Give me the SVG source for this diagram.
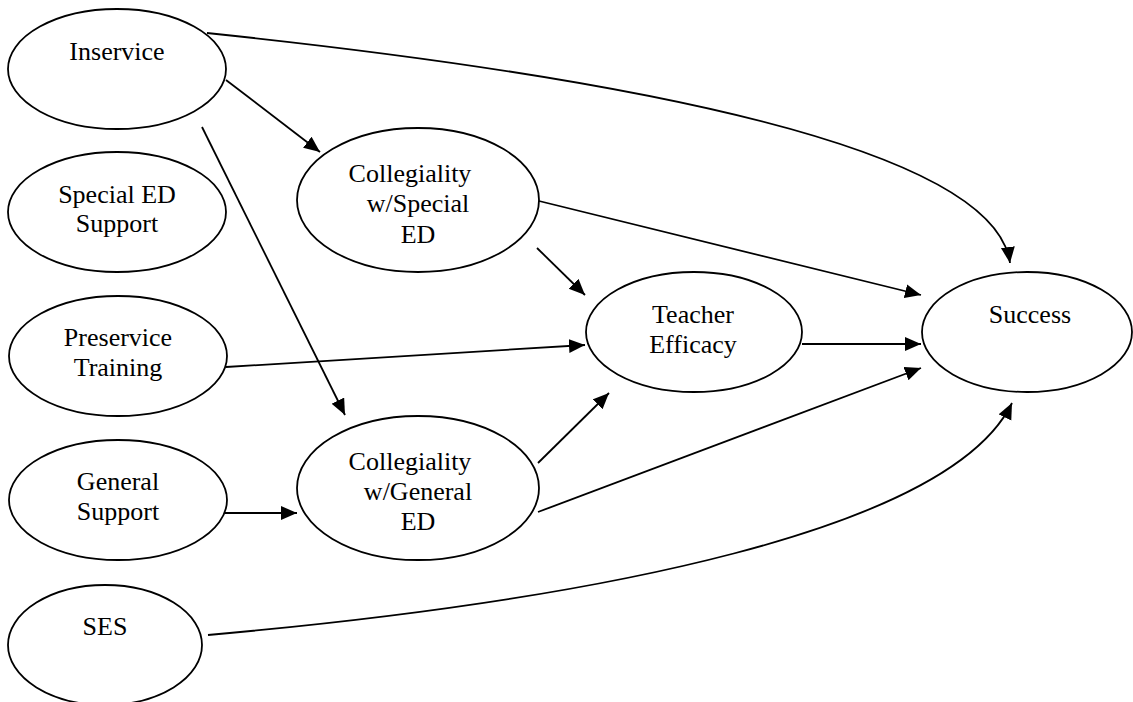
<svg xmlns="http://www.w3.org/2000/svg" width="1133" height="702" viewBox="0 0 1133 702">
<style>
.n{fill:#fff;stroke:#000;stroke-width:1.8}
.t{font-family:"Liberation Serif","Times New Roman",serif;font-size:26px;fill:#000;text-anchor:middle}
.c{fill:none;stroke:#000;stroke-width:1.8;marker-end:url(#ah)}
</style>
<defs>
<marker id="ah" markerUnits="userSpaceOnUse" markerWidth="17" markerHeight="15" refX="16" refY="7" orient="auto">
<path d="M0,0 L16,7 L0,14 z" fill="#000"/>
</marker>
</defs>
<rect width="1133" height="702" fill="#fff"/>
<g id="connectors">
<path class="c" d="M207,33 Q990,115 1010,263"/>
<path class="c" d="M226,80 L320,152"/>
<path class="c" d="M202,127 L345,415"/>
<path class="c" d="M539,201 L921,295"/>
<path class="c" d="M537,248 L585,295"/>
<path class="c" d="M226,367 L585,345"/>
<path class="c" d="M802,344 L921,344"/>
<path class="c" d="M538,463 L609,393"/>
<path class="c" d="M538,512 L921,368"/>
<path class="c" d="M225,513 L297,513"/>
<path class="c" d="M208,635 C600,600 950,530 1012,403"/>
</g>
<g id="inservice">
<ellipse class="n" cx="117" cy="69" rx="109" ry="60"/>
<text class="t" x="117" y="60">Inservice</text>
</g>
<g id="special-ed-support">
<ellipse class="n" cx="117" cy="212" rx="109" ry="60"/>
<text class="t" x="117" y="203">Special ED</text>
<text class="t" x="117" y="232">Support</text>
</g>
<g id="preservice-training">
<ellipse class="n" cx="118" cy="356" rx="109" ry="60"/>
<text class="t" x="118" y="346">Preservice</text>
<text class="t" x="118" y="376">Training</text>
</g>
<g id="general-support">
<ellipse class="n" cx="118" cy="500" rx="109" ry="60"/>
<text class="t" x="118" y="490">General</text>
<text class="t" x="118" y="520">Support</text>
</g>
<g id="ses">
<ellipse class="n" cx="105" cy="645" rx="97" ry="60"/>
<text class="t" x="105" y="635">SES</text>
</g>
<g id="collegiality-special">
<ellipse class="n" cx="418" cy="200" rx="121" ry="72"/>
<text class="t" x="410" y="182">Collegiality</text>
<text class="t" x="418" y="212">w/Special</text>
<text class="t" x="418" y="243">ED</text>
</g>
<g id="collegiality-general">
<ellipse class="n" cx="418" cy="488" rx="121" ry="72"/>
<text class="t" x="410" y="470">Collegiality</text>
<text class="t" x="418" y="500">w/General</text>
<text class="t" x="418" y="530">ED</text>
</g>
<g id="teacher-efficacy">
<ellipse class="n" cx="694" cy="332" rx="108" ry="60"/>
<text class="t" x="693" y="323">Teacher</text>
<text class="t" x="693" y="353">Efficacy</text>
</g>
<g id="success">
<ellipse class="n" cx="1027" cy="332" rx="105" ry="60"/>
<text class="t" x="1030" y="323">Success</text>
</g>
</svg>
